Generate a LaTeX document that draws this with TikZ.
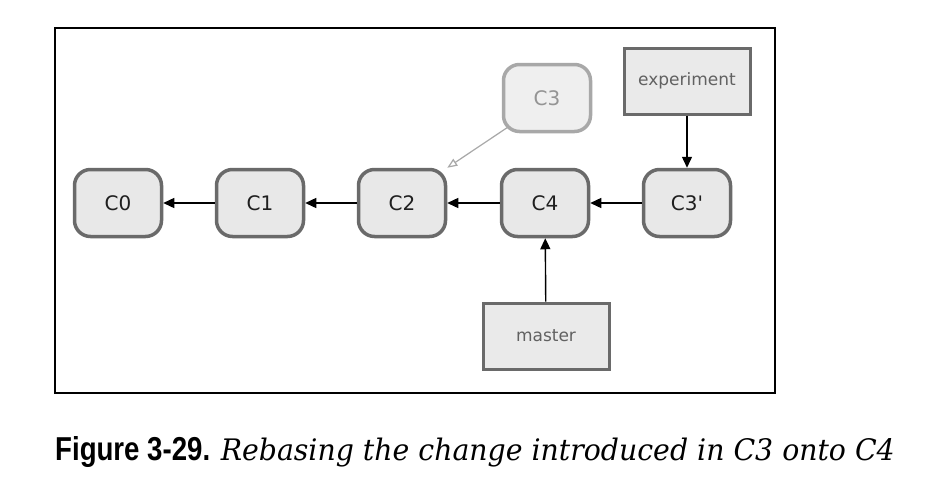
\documentclass[tikz,border=0pt]{standalone}
\usepackage{fontspec}
\setmainfont{DejaVu Sans}
\newfontfamily\nodesans{DejaVu Sans}
\newfontfamily\capsans{Liberation Sans}
\newfontfamily\capserif{DejaVu Serif}
\usetikzlibrary{arrows.meta}
\definecolor{nodefill}{HTML}{E8E8E8}
\definecolor{nodeline}{HTML}{6A6A6A}
\definecolor{ghostline}{HTML}{A8A8A8}
\definecolor{ghostfill}{HTML}{EFEFEF}
\tikzset{
  commit/.style={draw=nodeline, line width=3.5pt, fill=nodefill, rounded corners=16pt,
    minimum width=87pt, minimum height=67pt, inner sep=0pt, font=\nodesans\fontsize{20}{24}\selectfont, text=black!88},
  ghost/.style={commit, draw=ghostline, fill=ghostfill, text=black!42},
  branch/.style={draw=nodeline, line width=3pt, fill=nodefill!90!white, minimum width=126pt,
    minimum height=66pt, inner sep=0pt, font=\nodesans\fontsize{17}{20}\selectfont, text=black!62},
  link/.style={line width=1.4pt, -{Triangle[length=11pt,width=10pt]}},
  ghostlink/.style={draw=ghostline, line width=1.2pt, -{Triangle[open,length=10pt,width=8pt]}}
}
\begin{document}
\begin{tikzpicture}[x=1pt,y=-1pt]
\useasboundingbox (0,0) rectangle (936,496);
\fill[white] (0,0) rectangle (936,496);
\draw[line width=1.8pt] (55,28) rectangle (775,393);
\node[commit] (c0) at (118,203) {C0};
\node[commit] (c1) at (260,203) {C1};
\node[commit] (c2) at (402,203) {C2};
\node[commit] (c4) at (545,203) {C4};
\node[commit] (c3p) at (687,203) {C3'};
\node[ghost] (c3) at (547,98) {C3};
\node[branch] (exp) at (687,81) {experiment};
\node[branch] (master) at (546,336) {master};
\draw[link] (c1) -- (c0);
\draw[link] (c2) -- (c1);
\draw[link] (c4) -- (c2);
\draw[link] (c3p) -- (c4);
\draw[link] (exp) -- (c3p);
\draw[link] (master) -- (c4);
\coordinate (g0) at ([shift={(6pt,6pt)}]c3.south west);
\draw[ghostlink] (g0) -- (c2.north east);
\node[anchor=base west, inner sep=0pt] (figlab) at (55,460)
  {\resizebox{155pt}{24pt}{\capsans\bfseries Figure 3-29.}};
\node[anchor=base east, inner sep=0pt] (figcap) at (895,460)
  {\resizebox{674pt}{22.5pt}{\capserif\itshape Rebasing the change introduced in C3 onto C4}};
\end{tikzpicture}
\end{document}
